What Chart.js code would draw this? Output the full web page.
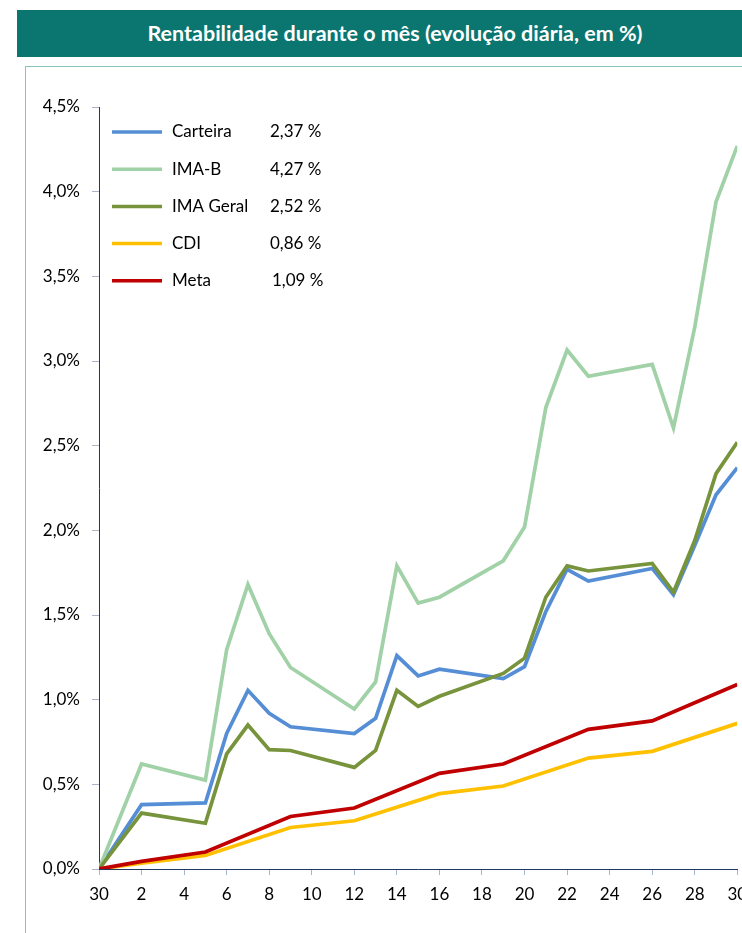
<!DOCTYPE html>
<html>
<head>
<meta charset="utf-8">
<script src="https://cdn.jsdelivr.net/npm/chart.js@4"></script>
<style>
    body { margin: 0; background: #fff; overflow: hidden; width: 742px; height: 933px; position: relative; }
    #titulo {
        position: absolute; left: 17px; top: 10px; width: 756px; height: 47px;
        background: #0b7570; color: #fff; font: bold 21.5px Lato, sans-serif;
        text-align: center; line-height: 47px;
    }
    #moldura {
        position: absolute; left: 25px; top: 66px; width: 760px; height: 900px;
        border: 1.5px solid #86c6bf; box-sizing: border-box;
    }
    #grafico { position: absolute; left: 0; top: 0; }
</style>
</head>
<body>
<div id="titulo">Rentabilidade durante o mês (evolução diária, em %)</div>
<div id="moldura"></div>
<canvas id="grafico" width="780" height="933"></canvas>
<script>
    // dias do mês (0 = dia 30 do mês anterior)
    const dias = [0, 2, 5, 6, 7, 8, 9, 12, 13, 14, 15, 16, 19, 20, 21, 22, 23, 26, 27, 28, 29, 30];

    const carteira = [0, 0.38, 0.39, 0.80, 1.055, 0.92, 0.84, 0.80, 0.89, 1.26, 1.14, 1.18, 1.125, 1.195, 1.52, 1.77, 1.70, 1.775, 1.62, 1.91, 2.21, 2.37];
    const imaB = [0, 0.62, 0.525, 1.295, 1.68, 1.39, 1.19, 0.945, 1.105, 1.79, 1.57, 1.605, 1.82, 2.02, 2.725, 3.065, 2.91, 2.98, 2.605, 3.2, 3.94, 4.27];
    const imaGeral = [0, 0.33, 0.27, 0.68, 0.85, 0.705, 0.70, 0.60, 0.70, 1.055, 0.96, 1.02, 1.155, 1.245, 1.605, 1.79, 1.76, 1.805, 1.635, 1.94, 2.335, 2.52];
    const cdi = [0, 0.035, 0.08, null, null, null, 0.245, 0.285, null, null, null, 0.445, 0.49, null, null, null, 0.655, 0.695, null, null, null, 0.86];
    const meta = [0, 0.045, 0.10, null, null, null, 0.31, 0.36, null, null, null, 0.565, 0.62, null, null, null, 0.825, 0.875, null, null, null, 1.09];

    const nomes = ["Carteira", "IMA-B", "IMA Geral", "CDI", "Meta"];
    const valoresLegenda = ["2,37 %", "4,27 %", "2,52 %", "0,86 %", "1,09 %"];
    const cores = ["#558ed5", "#a1d1a6", "#77933c", "#ffc000", "#c00000"];

    function pontos(serie) {
        return dias.map((d, i) => ({ x: d, y: serie[i] }));
    }

    const series = [carteira, imaB, imaGeral, cdi, meta];

    // legenda desenhada dentro da área do gráfico
    const legendaInterna = {
        id: "legendaInterna",
        afterDraw(chart) {
            const ctx = chart.ctx;
            ctx.save();
            ctx.font = "17px Lato, sans-serif";
            ctx.textBaseline = "middle";
            ctx.fillStyle = "#000";
            for (let i = 0; i < nomes.length; i++) {
                let y = 132 + i * 37.2;
                ctx.strokeStyle = cores[i];
                ctx.lineWidth = 3.5;
                ctx.beginPath();
                ctx.moveTo(112, y);
                ctx.lineTo(162, y);
                ctx.stroke();
                ctx.fillText(nomes[i], 172, y);
                ctx.fillText(valoresLegenda[i], i == 4 ? 272 : 270, y);
            }
            ctx.restore();
        }
    };

    new Chart(document.getElementById("grafico"), {
        type: "line",
        data: {
            datasets: series.map((s, i) => ({
                label: nomes[i],
                data: pontos(s),
                borderColor: cores[i],
                borderWidth: 3.7,
                pointRadius: 0,
                tension: 0,
                spanGaps: true,
                order: 5 - i
            }))
        },
        options: {
            responsive: false,
            animation: false,
            layout: { padding: { left: 20, top: 107, right: 42.7, bottom: 24 } },
            plugins: { legend: { display: false }, tooltip: { enabled: false } },
            scales: {
                x: {
                    type: "linear",
                    min: 0,
                    max: 30,
                    afterFit(scale) { scale.height = 40; },
                    grid: { drawOnChartArea: false, tickLength: 6, color: "#a9b6c8" },
                    border: { color: "#1f3864", width: 1 },
                    ticks: {
                        stepSize: 2,
                        padding: 9,
                        color: "#000",
                        font: { family: "Lato", size: 17 },
                        maxRotation: 0,
                        callback: v => v === 0 ? "30" : String(v)
                    }
                },
                y: {
                    min: 0,
                    max: 4.5,
                    afterFit(scale) { scale.width = 79; },
                    grid: { drawOnChartArea: false, tickLength: 7, color: "#a9b6c8" },
                    border: { color: "#1f3864", width: 1 },
                    ticks: {
                        stepSize: 0.5,
                        padding: 12,
                        color: "#000",
                        font: { family: "Lato", size: 17 },
                        callback: v => v.toFixed(1).replace(".", ",") + "%"
                    }
                }
            }
        },
        plugins: [legendaInterna]
    });
</script>
</body>
</html>
